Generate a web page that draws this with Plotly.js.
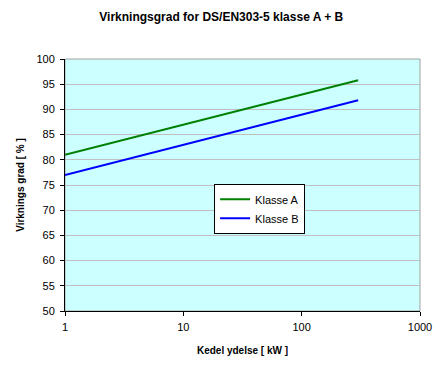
<!DOCTYPE html>
<html>
<head>
<meta charset="utf-8">
<script src="https://cdn.plot.ly/plotly-3.0.1.min.js"></script>
<style>html,body{margin:0;padding:0;background:#fff;}#chart{width:447px;height:373px;}</style>
</head>
<body>
<div id="chart"></div>
<script>
var kedelKW = [1, 2, 5, 10, 20, 50, 100, 200, 300];
var klasseA = [81, 82.8, 85.2, 87, 88.8, 91.2, 93, 94.8, 95.8];
var klasseB = [77, 78.8, 81.2, 83, 84.8, 87.2, 89, 90.8, 91.8];
var seriesNames = ['Klasse A', 'Klasse B'];
var xTicks = [1, 10, 100, 1000];
var yTicks = [50, 55, 60, 65, 70, 75, 80, 85, 90, 95, 100];

var font = 'Arial, "Liberation Sans", sans-serif';
var traces = [
  {x: kedelKW, y: klasseA, name: seriesNames[0], mode: 'lines', line: {color: '#008000', width: 2}},
  {x: kedelKW, y: klasseB, name: seriesNames[1], mode: 'lines', line: {color: '#0000FF', width: 2}}
];
var layout = {
  width: 447, height: 373,
  margin: {l: 65, r: 27, t: 59, b: 62},
  paper_bgcolor: '#ffffff',
  plot_bgcolor: '#CCFFFF',
  font: {family: font, size: 11, color: '#000'},
  title: {text: '<b>Virkningsgrad for DS/EN303-5 klasse A + B</b>', font: {family: font, size: 12, color: '#000'}, x: 0.495, xanchor: 'center', y: 0.955, yanchor: 'middle'},
  xaxis: {
    type: 'log', range: [0, 3], tickvals: xTicks, ticktext: xTicks.map(String),
    showgrid: false, zeroline: false, showline: true, linecolor: '#000', linewidth: 1,
    ticks: 'outside', ticklen: 4, tickcolor: '#000', ticklabelstandoff: 2,
    tickfont: {family: font, size: 11, color: '#000'},
    title: {text: '<b>Kedel ydelse [ kW ]</b>', font: {family: font, size: 10, color: '#000'}, standoff: 14}
  },
  yaxis: {
    range: [50, 100], tickvals: yTicks, showgrid: true, gridcolor: '#C0C0C0', gridwidth: 1,
    zeroline: false, showline: true, linecolor: '#000', linewidth: 1,
    ticks: 'outside', ticklen: 4, tickcolor: '#000', ticklabelstandoff: 3,
    tickfont: {family: font, size: 11, color: '#000'},
    title: {text: '<b>Virknings grad [ % ]</b>', font: {family: font, size: 10, color: '#000'}, standoff: 9}
  },
  shapes: [{type: 'rect', xref: 'paper', yref: 'paper', x0: 0, x1: 1, y0: 0, y1: 1, line: {color: '#A0A0A0', width: 1}, layer: 'below'}],
  legend: {x: 0.42, y: 0.505, xanchor: 'left', yanchor: 'top', bgcolor: '#ffffff', bordercolor: '#000', borderwidth: 1,
    font: {family: font, size: 11, color: '#000'}, tracegroupgap: 0, itemwidth: 30},
  showlegend: true
};
Plotly.newPlot('chart', traces, layout, {displayModeBar: false, staticPlot: true});
</script>
</body>
</html>
